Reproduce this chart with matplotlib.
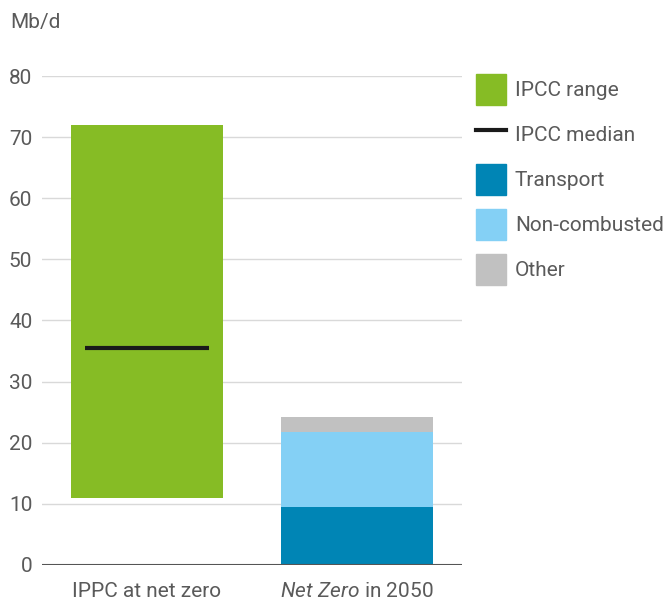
import matplotlib.pyplot as plt
from matplotlib.patches import Patch
from matplotlib.lines import Line2D

plt.rcParams['font.family'] = ['Roboto', 'DejaVu Sans']
plt.rcParams['mathtext.fontset'] = 'custom'
plt.rcParams['mathtext.rm'] = 'Roboto'
plt.rcParams['mathtext.it'] = 'Roboto:italic'

categories = ["IPPC at net zero", r"$\mathit{Net\ Zero}$ in 2050"]
ipcc_low = 11.0
ipcc_high = 72.0
ipcc_median = 35.5
transport = 9.5
non_combusted = 12.3
other = 2.4

green = "#86bc25"
c_transport = "#0085b5"
c_noncomb = "#84d0f5"
c_other = "#c1c1c1"
text_col = "#5a5a5a"
fs = 15

fig = plt.figure(figsize=(6.72, 6.01), dpi=100)
ax = fig.add_axes([0.0625, 0.06, 0.625, 0.8135])

x = [0, 1]
w = 0.72
ax.bar(x[0], ipcc_high - ipcc_low, bottom=ipcc_low, width=w, color=green, zorder=2)
ax.hlines(ipcc_median, x[0] - w / 2 * 0.82, x[0] + w / 2 * 0.82, color="#1a1a1a", lw=3, zorder=3)

ax.bar(x[1], transport, width=w, color=c_transport, zorder=2)
ax.bar(x[1], non_combusted, bottom=transport, width=w, color=c_noncomb, zorder=2)
ax.bar(x[1], other, bottom=transport + non_combusted, width=w, color=c_other, zorder=2)

ax.set_xlim(-0.5, 1.5)
ax.set_ylim(0, 80)
ax.set_yticks(range(0, 81, 10))
ax.grid(axis='y', color="#d9d9d9", lw=1, zorder=0)
ax.axhline(0, color="#555555", lw=1.5, zorder=4)
for s in ax.spines.values():
    s.set_visible(False)
ax.tick_params(length=0, labelsize=fs, labelcolor=text_col, pad=7)
ax.tick_params(axis='x', pad=12)
ax.set_xticks(x)
ax.set_xticklabels(categories)

fig.text(0.015, 0.962, "Mb/d", fontsize=fs, color=text_col, va='center')

handles = [
    Patch(color=green),
    Line2D([], [], color="#1a1a1a", lw=3),
    Patch(color=c_transport),
    Patch(color=c_noncomb),
    Patch(color=c_other),
]
labels = ["IPCC range", "IPCC median", "Transport", "Non-combusted", "Other"]
fig.legend(handles, labels, loc='upper left', bbox_to_anchor=(476 / 672, 1 - 74 / 601),
           frameon=False, fontsize=fs, labelcolor=text_col, borderpad=0, borderaxespad=0,
           handlelength=1.45, handleheight=1.91, labelspacing=0.67, handletextpad=0.42)

fig.savefig("out.png", dpi=100)
